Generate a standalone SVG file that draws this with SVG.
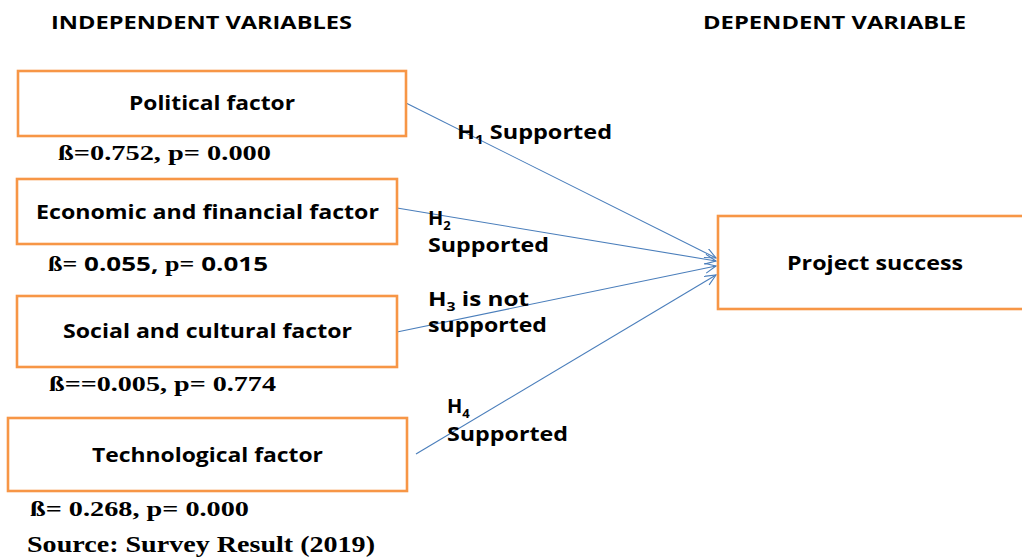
<svg xmlns="http://www.w3.org/2000/svg" width="1022" height="557" viewBox="0 0 1022 557">
<style>
.box{fill:#fff;stroke:#f79646;stroke-width:2.6}
.s{font-family:"Open Sans","Liberation Sans",sans-serif;font-weight:700;fill:#000}
.r{font-family:"Liberation Serif","Times New Roman",serif;font-weight:700;fill:#000}
.b{font-size:19px}
.l{font-size:20px}
.h{font-size:17px}
.c{stroke:#4a7ebb;stroke-width:1.1;fill:none}
</style>
<defs>
<marker id="arr" markerUnits="userSpaceOnUse" markerWidth="14" markerHeight="12" refX="12" refY="5" orient="auto" viewBox="0 0 14 12">
<path d="M1,0 L12,5 L1,10" fill="none" stroke="#4a7ebb" stroke-width="1.1"/>
</marker>
</defs>
<rect width="1022" height="557" fill="#fff"/>
<g id="headings">
<text class="s h" x="51" y="29" textLength="301" lengthAdjust="spacingAndGlyphs">INDEPENDENT VARIABLES</text>
<text class="s h" x="703" y="29" textLength="263" lengthAdjust="spacingAndGlyphs">DEPENDENT VARIABLE</text>
</g>
<g id="connectors">
<line class="c" x1="406" y1="103" x2="716" y2="258" marker-end="url(#arr)"/>
<line class="c" x1="397" y1="208" x2="716" y2="261" marker-end="url(#arr)"/>
<line class="c" x1="397" y1="332" x2="716" y2="266" marker-end="url(#arr)"/>
<line class="c" x1="416" y1="454" x2="716" y2="275" marker-end="url(#arr)"/>
</g>
<g id="political">
<rect class="box" x="18" y="71" width="388" height="65"/>
<text class="s b" x="129" y="110" textLength="166" lengthAdjust="spacingAndGlyphs">Political factor</text>
<text class="r" x="58" y="160" font-size="20" textLength="213" lengthAdjust="spacingAndGlyphs">ß=0.752, p= 0.000</text>
</g>
<g id="economic">
<rect class="box" x="17" y="179" width="380" height="65"/>
<text class="s b" x="36" y="219" textLength="343" lengthAdjust="spacingAndGlyphs">Economic and financial factor</text>
<text x="48" y="271" font-size="20" textLength="220" lengthAdjust="spacingAndGlyphs"><tspan class="r">ß=</tspan><tspan class="s"> 0.055, </tspan><tspan class="r">p=</tspan><tspan class="s"> 0.015</tspan></text>
</g>
<g id="social">
<rect class="box" x="17" y="296" width="380" height="71"/>
<text class="s b" x="63" y="338" textLength="289" lengthAdjust="spacingAndGlyphs">Social and cultural factor</text>
<text class="r" x="49" y="391" font-size="20" textLength="227" lengthAdjust="spacingAndGlyphs">ß==0.005, p= 0.774</text>
</g>
<g id="technological">
<rect class="box" x="8" y="418" width="399" height="73"/>
<text class="s b" x="92" y="462" textLength="231" lengthAdjust="spacingAndGlyphs">Technological factor</text>
<text class="r" x="30" y="516" font-size="20" textLength="219" lengthAdjust="spacingAndGlyphs">ß= 0.268, p= 0.000</text>
</g>
<g id="project-success">
<rect class="box" x="718" y="216" width="320" height="93"/>
<text class="s b" x="787" y="270" textLength="176" lengthAdjust="spacingAndGlyphs">Project success</text>
</g>
<g id="labels">
<text class="s l" x="457" y="139" textLength="155" lengthAdjust="spacingAndGlyphs">H<tspan font-size="13" dy="5">1</tspan><tspan dy="-5"> Supported</tspan></text>
<text class="s l" x="428" y="225">H<tspan font-size="13" dy="5">2</tspan></text>
<text class="s l" x="428" y="252" textLength="121" lengthAdjust="spacingAndGlyphs">Supported</text>
<text class="s l" x="428" y="306" textLength="101" lengthAdjust="spacingAndGlyphs">H<tspan font-size="13" dy="5">3</tspan><tspan dy="-5">  is not</tspan></text>
<text class="s l" x="428" y="332" textLength="119" lengthAdjust="spacingAndGlyphs">supported</text>
<text class="s l" x="447" y="413">H<tspan font-size="13" dy="5">4</tspan></text>
<text class="s l" x="447" y="441" textLength="121" lengthAdjust="spacingAndGlyphs">Supported</text>
</g>
<g id="source">
<text class="r" x="27" y="552" font-size="23" textLength="348" lengthAdjust="spacingAndGlyphs">Source: Survey Result (2019)</text>
</g>
</svg>
